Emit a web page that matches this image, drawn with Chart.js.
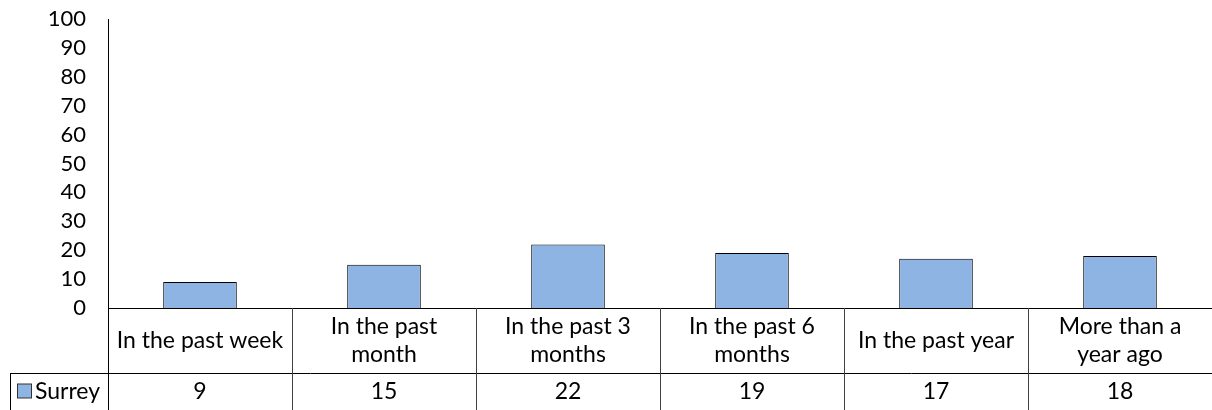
<!DOCTYPE html>
<html>
<head>
<meta charset="utf-8">
<script src="https://cdn.jsdelivr.net/npm/chart.js@4/dist/chart.umd.min.js"></script>
<style>
  html, body { margin: 0; padding: 0; background: #fff; }
  #wrap { width: 1212px; height: 410px; position: relative; }
</style>
</head>
<body>
<div id="wrap"><canvas id="chart"></canvas></div>
<script>
// Data
const categories = [
    ['In the past week'],
    ['In the past', 'month'],
    ['In the past 3', 'months'],
    ['In the past 6', 'months'],
    ['In the past year'],
    ['More than a', 'year ago']
];
const seriesName = 'Surrey';
const surreyValues = [9, 15, 22, 19, 17, 18];
const yTicks = [0, 10, 20, 30, 40, 50, 60, 70, 80, 90, 100];

const FONT = 'Lato, "Open Sans", sans-serif';
const BAR_FILL = '#8EB4E3';

// Draws the data table under the plot (category row + value row)
const dataTable = {
    id: 'dataTable',
    afterDraw(chart) {
        const ctx = chart.ctx;
        const x = chart.scales.x;
        const area = chart.chartArea;
        const catRowBottom = area.bottom + 65;
        const bottom = chart.height;
        const half = (x.getPixelForValue(1) - x.getPixelForValue(0)) / 2;
        const legendLeft = 10;

        ctx.save();
        ctx.strokeStyle = '#000';
        ctx.lineWidth = 1;

        // axis lines
        ctx.beginPath();
        ctx.moveTo(area.left + 0.5, area.top);
        ctx.lineTo(area.left + 0.5, bottom);
        ctx.moveTo(area.left, area.bottom + 0.5);
        ctx.lineTo(area.right, area.bottom + 0.5);
        ctx.moveTo(legendLeft, catRowBottom + 0.5);
        ctx.lineTo(area.right, catRowBottom + 0.5);
        ctx.moveTo(legendLeft + 0.5, catRowBottom);
        ctx.lineTo(legendLeft + 0.5, bottom);
        ctx.stroke();

        // column separators
        ctx.strokeStyle = '#404040';
        ctx.beginPath();
        for (let i = 0; i < categories.length - 1; i++) {
            const sx = Math.round(x.getPixelForValue(i) + half) + 0.5;
            ctx.moveTo(sx, area.bottom);
            ctx.lineTo(sx, bottom);
        }
        ctx.stroke();

        // text
        ctx.fillStyle = '#000';
        ctx.font = '23px ' + FONT;
        ctx.textAlign = 'center';
        ctx.textBaseline = 'middle';
        const catMid = (area.bottom + catRowBottom) / 2;
        const valMid = (catRowBottom + bottom) / 2;
        categories.forEach((lines, i) => {
            const cx = x.getPixelForValue(i);
            const lh = 28;
            const startY = catMid - (lines.length - 1) * lh / 2;
            lines.forEach((t, j) => ctx.fillText(t, cx, startY + j * lh));
            ctx.fillText(String(surreyValues[i]), cx, valMid);
        });

        // legend key + series name
        ctx.fillStyle = BAR_FILL;
        ctx.fillRect(17.5, valMid - 7.5, 14, 14);
        ctx.strokeStyle = '#333';
        ctx.strokeRect(17.5, valMid - 7.5, 14, 14);
        ctx.fillStyle = '#000';
        ctx.textAlign = 'left';
        ctx.fillText(seriesName, 35, valMid);
        ctx.restore();
    }
};

new Chart(document.getElementById('chart'), {
    type: 'bar',
    data: {
        labels: categories,
        datasets: [{
            label: seriesName,
            data: surreyValues,
            backgroundColor: BAR_FILL,
            borderColor: '#000',
            borderWidth: 1,
            categoryPercentage: 1,
            barPercentage: 0.4
        }]
    },
    options: {
        responsive: true,
        maintainAspectRatio: false,
        animation: false,
        layout: { padding: { top: 19, right: -4, bottom: 102, left: 0 } },
        plugins: {
            legend: { display: false },
            tooltip: { enabled: false }
        },
        scales: {
            x: {
                display: false
            },
            y: {
                min: 0,
                max: 100,
                afterFit: s => { s.width = 108; s.paddingTop = 0; s.paddingBottom = 0; },
                afterBuildTicks: s => { s.ticks = yTicks.map(v => ({ value: v })); },
                grid: { display: false, drawTicks: false },
                border: { display: false },
                ticks: {
                    autoSkip: false,
                    padding: 22,
                    color: '#000',
                    font: { family: FONT, size: 22 }
                }
            }
        }
    },
    plugins: [dataTable]
});
</script>
</body>
</html>
